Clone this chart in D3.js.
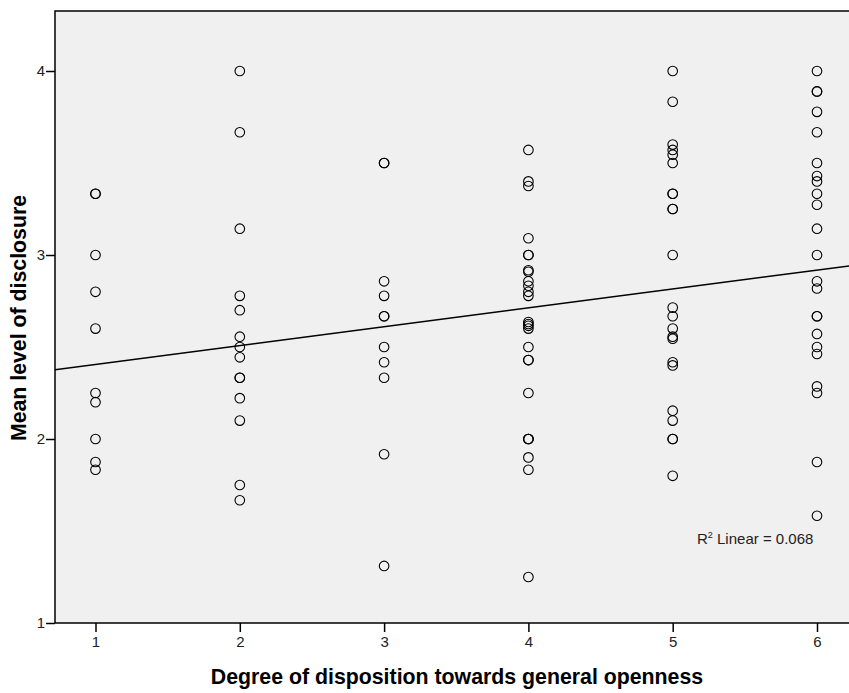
<!DOCTYPE html>
<html><head><meta charset="utf-8">
<script src="https://cdn.jsdelivr.net/npm/d3@7"></script>
<style>body{margin:0;background:#fff}svg{display:block}text{font-family:"Liberation Sans",Arial,sans-serif}</style>
</head><body><svg id="c" width="849" height="693"></svg>
<script>
const xCategories = [1, 2, 3, 4, 5, 6];
const yTicks = [1, 2, 3, 4];
const col1 = [3.333, 3.333, 3.0, 2.8, 2.6, 2.25, 2.2, 2.0, 1.875, 1.833];
const col2 = [4.0, 3.667, 3.143, 2.778, 2.7, 2.556, 2.5, 2.444, 2.333, 2.333, 2.222, 2.1, 1.75, 1.667];
const col3 = [3.5, 3.5, 2.857, 2.778, 2.667, 2.667, 2.5, 2.417, 2.333, 1.917, 1.31];
const col4 = [3.571, 3.4, 3.375, 3.091, 3.0, 3.0, 2.917, 2.909, 2.857, 2.833, 2.8, 2.778, 2.636, 2.625, 2.615, 2.6, 2.5, 2.429, 2.429, 2.25, 2.0, 2.0, 2.0, 1.9, 1.833, 1.25];
const col5 = [4.0, 3.833, 3.6, 3.571, 3.545, 3.5, 3.333, 3.333, 3.25, 3.25, 3.0, 2.714, 2.667, 2.6, 2.556, 2.545, 2.417, 2.4, 2.154, 2.1, 2.0, 2.0, 1.8];
const col6 = [4.0, 3.889, 3.889, 3.778, 3.667, 3.5, 3.429, 3.4, 3.333, 3.273, 3.143, 3.0, 2.857, 2.818, 2.667, 2.667, 2.571, 2.5, 2.462, 2.286, 2.25, 1.875, 1.583];
const columns = [col1, col2, col3, col4, col5, col6];
const fitIntercept = 2.302;
const fitSlope = 0.1026;
const rSquaredLabel = "Linear = 0.068";

const svg = d3.select("#c");
const L = 55, T = 11, B = 623;
const x = d3.scaleLinear().domain([1, 6]).range([95.5, 817]);
const y = d3.scaleLinear().domain([1, 4]).range([B, 71]);
const xMin = x.invert(L), xMax = x.invert(860);
const R = x(xMax);

svg.append("rect").attr("x", L).attr("y", T).attr("width", R - L).attr("height", B - T)
  .attr("fill", "#f0f0f0").attr("stroke", "#000").attr("stroke-width", 1.5);

svg.append("clipPath").attr("id", "pc").append("rect")
  .attr("x", L).attr("y", T).attr("width", R - L).attr("height", B - T);

const pts = [];
columns.forEach((c, i) => c.forEach(v => pts.push({x: xCategories[i], y: v})));

const g = svg.append("g").attr("clip-path", "url(#pc)");
g.selectAll("circle").data(pts).enter().append("circle")
  .attr("cx", d => x(d.x)).attr("cy", d => y(d.y)).attr("r", 4.8)
  .attr("fill", "none").attr("stroke", "#000").attr("stroke-width", 1.1);

const line = d3.line().x(d => x(d)).y(d => y(fitIntercept + fitSlope * d));
g.append("path").datum([xMin, xMax]).attr("d", line)
  .attr("stroke", "#000").attr("stroke-width", 1.5).attr("fill", "none");

const FONT = '"Liberation Sans",Arial,sans-serif';
const yAxis = d3.axisLeft(y).tickValues(yTicks).tickSize(9).tickPadding(1).tickFormat(d3.format("d"));
const ya = svg.append("g").attr("transform", `translate(${L},0)`).call(yAxis);
ya.select(".domain").remove();
ya.selectAll("line").attr("stroke", "#000").attr("stroke-width", 1.5);
ya.selectAll("text").attr("font-size", 15).attr("fill", "#222").attr("font-family", FONT);

const xAxis = d3.axisBottom(x).tickValues(xCategories).tickSize(9).tickPadding(4).tickFormat(d3.format("d"));
const xa = svg.append("g").attr("transform", `translate(0,${B})`).call(xAxis);
xa.select(".domain").remove();
xa.selectAll("line").attr("stroke", "#000").attr("stroke-width", 1.5);
xa.selectAll("text").attr("font-size", 15).attr("fill", "#222").attr("font-family", FONT);

svg.append("text").attr("x", 457).attr("y", 684).attr("text-anchor", "middle")
  .attr("font-size", 21.3).attr("font-weight", "bold").attr("fill", "#000")
  .text("Degree of disposition towards general openness");

svg.append("text").attr("transform", "translate(26,318) rotate(-90)").attr("text-anchor", "middle")
  .attr("font-size", 21.3).attr("font-weight", "bold").attr("fill", "#000")
  .text("Mean level of disclosure");

const rt = svg.append("text").attr("x", 697).attr("y", 544).attr("font-size", 15).attr("fill", "#222");
rt.append("tspan").text("R");
rt.append("tspan").attr("font-size", 9).attr("dy", -6).text("2");
rt.append("tspan").attr("dy", 6).text(" " + rSquaredLabel);
</script></body></html>
